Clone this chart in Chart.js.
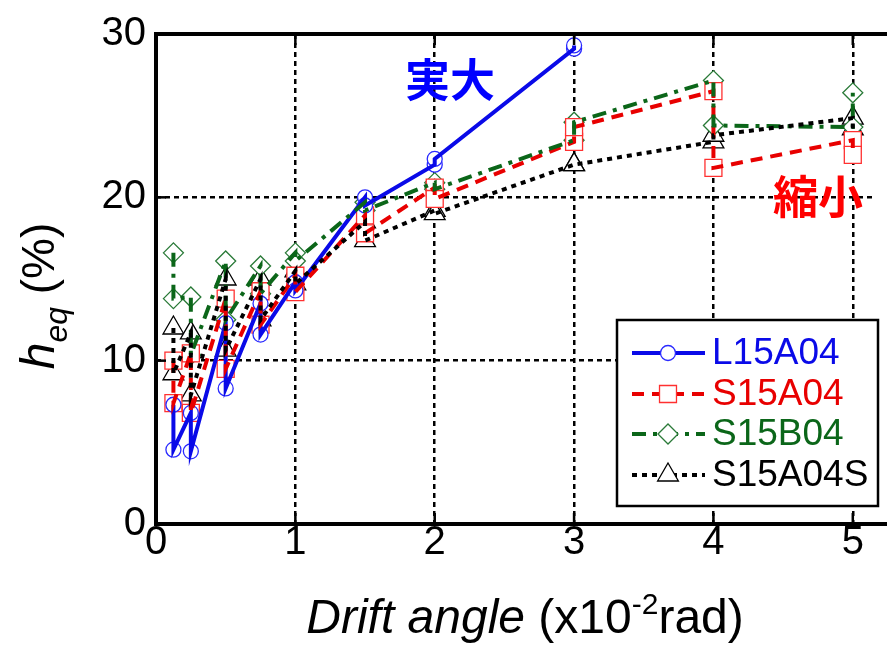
<!DOCTYPE html>
<html>
<head>
<meta charset="utf-8">
<script src="https://cdn.jsdelivr.net/npm/chart.js@4.4.1/dist/chart.umd.min.js"></script>
<style>
  html, body { margin: 0; padding: 0; background: #fff; }
  #wrap { width: 887px; height: 645px; }
</style>
</head>
<body>
<div id="wrap"><canvas id="chart" width="887" height="645"></canvas></div>
<script>
// drift angle of each point: two values per cycle (first / second)
const xPairs = [0.125, 0.125, 0.25, 0.25, 0.5, 0.5, 0.75, 0.75, 1, 1, 1.5, 1.5, 2, 2, 3, 3, 4, 4, 5, 5];
const xTicks = [0, 1, 2, 3, 4, 5];
const yTicks = [0, 10, 20, 30];

// h_eq (%)
const L15A04  = [7.3, 4.55, 6.8, 4.45, 12.3, 8.3, 13.5, 11.6, 14.8, 14.3, 20.0, 19.5, 22.0, 22.35, 29.1, 29.3];
const S15A04  = [10.0, 7.4, 10.45, 6.8, 13.8, 9.5, 14.25, 12.2, 15.2, 14.2, 18.9, 17.8, 20.6, 19.9, 23.4, 24.3, 26.5, 21.8, 23.5, 22.6];
const S15B04  = [16.6, 13.8, 13.9, 10.35, 16.1, 12.5, 15.8, 14.1, 16.6, 16.1, 19.7, 19.2, 20.9, 20.5, 23.5, 24.6, 27.15, 24.4, 24.3, 26.4];
const S15A04S = [12.0, 9.2, 11.7, 7.9, 15.0, 10.65, 15.0, 12.5, 15.5, 14.7, 18.5, 17.35, 19.2, 19.0, 22.0, 22.0, 23.4, 23.8, 24.85, 24.2];

const seriesNames = ['L15A04', 'S15A04', 'S15B04', 'S15A04S'];
const seriesData = [L15A04, S15A04, S15B04, S15A04S];

const FONT = '"Liberation Sans", Arial, sans-serif';

// style of each series
const styles = [
  { line: '#0a0ae8', text: '#0a0ae8', mark: '#2a2aff', dash: [], point: 'circle', r: 7.5 },
  { line: '#e80000', text: '#e80000', mark: '#ff3030', dash: [12, 8], point: 'rect', r: 12 },
  { line: '#0b6619', text: '#0b6619', mark: '#2a7a38', dash: [14, 7, 4, 7], point: 'rectRot', r: 10 },
  { line: '#000000', text: '#000000', mark: '#000000', dash: [5, 5], point: 'triangle', r: 12 }
];

function toPts(ys) {
  return ys.map((y, i) => ({ x: xPairs[i], y: y }));
}

const datasets = [];
// lines first (black at the bottom, blue on top)
[3, 2, 1, 0].forEach(i => {
  datasets.push({
    label: seriesNames[i] + ' line',
    data: toPts(seriesData[i]),
    showLine: true,
    borderColor: styles[i].line,
    borderWidth: 4,
    borderDash: styles[i].dash,
    pointRadius: 0,
    pointHoverRadius: 0
  });
});
// then markers
[0, 1, 2, 3].forEach(i => {
  datasets.push({
    label: seriesNames[i],
    data: toPts(seriesData[i]),
    showLine: false,
    pointStyle: styles[i].point,
    pointRadius: styles[i].r,
    pointHoverRadius: styles[i].r,
    pointBorderWidth: 1.3,
    pointBorderColor: styles[i].mark,
    pointBackgroundColor: '#ffffff'
  });
});

function drawMarker(ctx, st, x, y) {
  const r = st.r;
  ctx.beginPath();
  if (st.point === 'circle') {
    ctx.arc(x, y, r, 0, Math.PI * 2);
  } else if (st.point === 'rect') {
    const s = r * Math.SQRT1_2;
    ctx.rect(x - s, y - s, 2 * s, 2 * s);
  } else if (st.point === 'rectRot') {
    ctx.moveTo(x - r, y); ctx.lineTo(x, y - r); ctx.lineTo(x + r, y); ctx.lineTo(x, y + r);
    ctx.closePath();
  } else {
    ctx.moveTo(x, y - r);
    ctx.lineTo(x + r * Math.sin(2 * Math.PI / 3), y - r * Math.cos(2 * Math.PI / 3));
    ctx.lineTo(x + r * Math.sin(4 * Math.PI / 3), y - r * Math.cos(4 * Math.PI / 3));
    ctx.closePath();
  }
  ctx.fillStyle = '#fff';
  ctx.fill();
  ctx.lineWidth = 1.3;
  ctx.strokeStyle = st.mark;
  ctx.setLineDash([]);
  ctx.stroke();
}

// frame, inner ticks, legend, labels
const decorPlugin = {
  id: 'decor',
  afterDatasetsDraw(chart) {
    const ctx = chart.ctx;
    const a = chart.chartArea;
    const xs = chart.scales.x, ys = chart.scales.y;
    ctx.save();
    ctx.setLineDash([]);
    ctx.strokeStyle = '#000';

    // inner ticks
    ctx.lineWidth = 2.5;
    xTicks.forEach(v => {
      const px = xs.getPixelForValue(v);
      ctx.beginPath();
      ctx.moveTo(px, a.bottom); ctx.lineTo(px, a.bottom - 11);
      ctx.moveTo(px, a.top); ctx.lineTo(px, a.top + 11);
      ctx.stroke();
    });
    yTicks.forEach(v => {
      const py = ys.getPixelForValue(v);
      ctx.beginPath();
      ctx.moveTo(a.left, py); ctx.lineTo(a.left + 10, py);
      ctx.stroke();
    });

    // legend box
    const lx = 617, ly = 320, lw = 261, lh = 186;
    ctx.fillStyle = '#fff';
    ctx.fillRect(lx, ly, lw, lh);
    ctx.lineWidth = 2.5;
    ctx.strokeRect(lx, ly, lw, lh);
    const rowY = [353, 394, 434, 475];
    seriesNames.forEach((name, i) => {
      const st = styles[i];
      const y = rowY[i];
      ctx.beginPath();
      ctx.setLineDash(st.dash);
      ctx.lineWidth = 4;
      ctx.strokeStyle = st.line;
      ctx.moveTo(632, y); ctx.lineTo(705, y);
      ctx.stroke();
      drawMarker(ctx, st, 668, y);
      ctx.fillStyle = st.text;
      ctx.font = '37px ' + FONT;
      ctx.textBaseline = 'middle';
      ctx.textAlign = 'left';
      ctx.fillText(name, 712, y + 1);
    });

    // annotations
    ctx.font = 'bold 45px "Noto Sans CJK JP", sans-serif';
    ctx.textAlign = 'center';
    ctx.textBaseline = 'middle';
    ctx.fillStyle = '#0000ff';
    ctx.fillText('実大', 450, 80);
    ctx.fillStyle = '#ff0000';
    ctx.fillText('縮小', 818, 197);

    // frame
    ctx.setLineDash([]);
    ctx.strokeStyle = '#000';
    ctx.lineWidth = 4;
    ctx.beginPath();
    ctx.moveTo(chart.width, a.top);
    ctx.lineTo(a.left, a.top);
    ctx.lineTo(a.left, a.bottom);
    ctx.lineTo(chart.width, a.bottom);
    ctx.stroke();
    ctx.restore();
  },
  afterDraw(chart) {
    const ctx = chart.ctx;
    ctx.save();
    ctx.fillStyle = '#000';
    ctx.textBaseline = 'alphabetic';
    ctx.textAlign = 'left';

    // x title
    const parts = [
      { t: 'Drift angle', f: 'italic 48px ' + FONT, dy: 0 },
      { t: ' (x10', f: '48px ' + FONT, dy: 0 },
      { t: '-2', f: '30px ' + FONT, dy: -19 },
      { t: 'rad)', f: '48px ' + FONT, dy: 0 }
    ];
    let total = 0;
    parts.forEach(p => { ctx.font = p.f; p.w = ctx.measureText(p.t).width; total += p.w; });
    let x = 525 - total / 2;
    parts.forEach(p => {
      ctx.font = p.f;
      ctx.fillText(p.t, x, 633 + p.dy);
      x += p.w;
    });

    // y title, rotated
    const yparts = [
      { t: 'h', f: 'italic 48px ' + FONT, dy: 0 },
      { t: 'eq', f: 'italic 32px ' + FONT, dy: 13 },
      { t: ' (%)', f: '46px ' + FONT, dy: 0 }
    ];
    total = 0;
    yparts.forEach(p => { ctx.font = p.f; p.w = ctx.measureText(p.t).width; total += p.w; });
    ctx.translate(54, 296);
    ctx.rotate(-Math.PI / 2);
    x = -total / 2;
    yparts.forEach(p => {
      ctx.font = p.f;
      ctx.fillText(p.t, x, p.dy);
      x += p.w;
    });
    ctx.restore();
  }
};

new Chart(document.getElementById('chart'), {
  type: 'scatter',
  data: { datasets: datasets },
  options: {
    responsive: false,
    animation: false,
    layout: { padding: { top: 30, right: 0, left: 0, bottom: 0 } },
    plugins: { legend: { display: false }, tooltip: { enabled: false } },
    scales: {
      x: {
        type: 'linear',
        min: 0,
        max: 5.15,
        afterBuildTicks: s => { s.ticks = xTicks.map(v => ({ value: v })); },
        afterFit: s => { s.height = 121; },
        grid: { color: '#000', lineWidth: 2.5, drawTicks: false },
        border: { display: false, dash: [5, 4] },
        ticks: { color: '#000', font: { family: FONT, size: 40 }, padding: -5, maxRotation: 0 }
      },
      y: {
        min: 0,
        max: 30,
        afterBuildTicks: s => { s.ticks = yTicks.map(v => ({ value: v })); },
        afterFit: s => { s.width = 156; },
        grid: { color: '#000', lineWidth: 2.5, drawTicks: false },
        border: { display: false, dash: [5, 4] },
        ticks: { color: '#000', font: { family: FONT, size: 40 }, padding: 10 }
      }
    }
  },
  plugins: [decorPlugin]
});
</script>
</body>
</html>
